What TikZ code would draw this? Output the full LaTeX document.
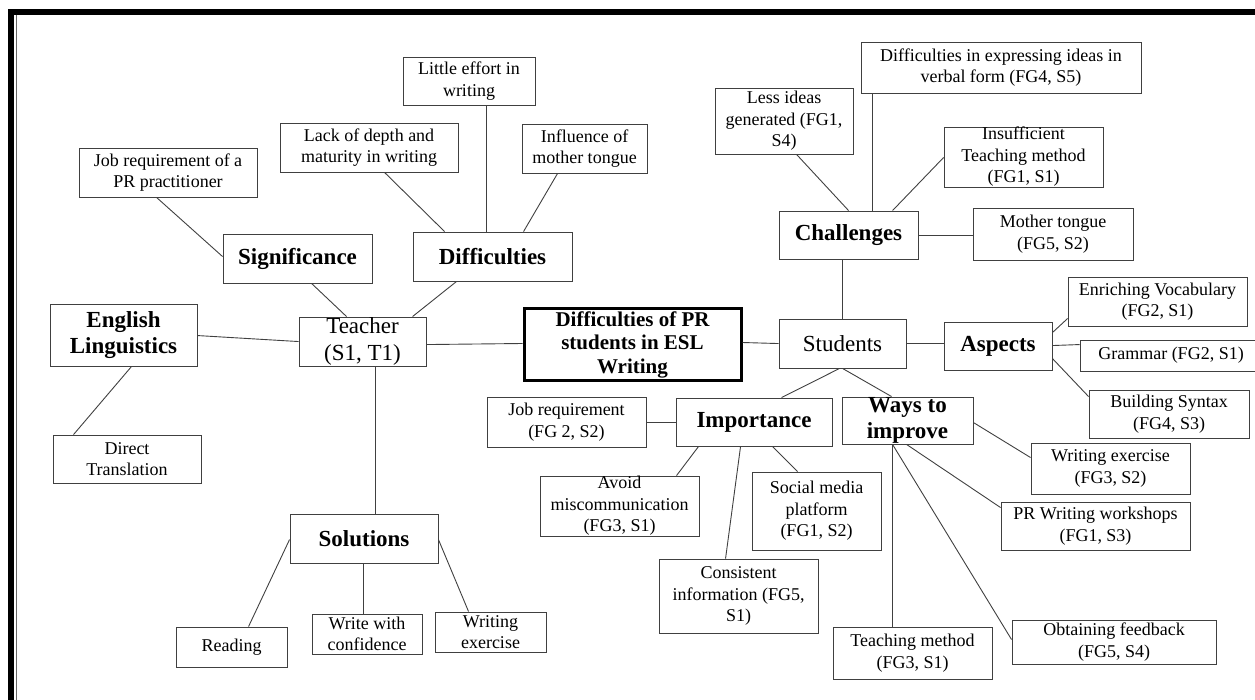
\documentclass[tikz,border=0pt]{standalone}
\usepackage{fontspec}
\setmainfont{Liberation Serif}
\begin{document}
\begin{tikzpicture}[x=1pt,y=-1pt,
  box/.style={draw=black!75, line width=0.9pt, inner sep=0pt, align=center,
    font=\fontsize{18}{21.5}\selectfont},
  head/.style={box, font=\fontsize{23}{26}\selectfont\bfseries},
  mid/.style={box, font=\fontsize{23}{27}\selectfont},
  core/.style={draw=black, line width=3pt, inner sep=0pt, align=center,
    font=\fontsize{21}{23.5}\selectfont\bfseries},
  link/.style={draw=black!75, line width=0.9pt}]
\useasboundingbox (0,0) rectangle (1255,700);
% frame
\fill[black] (8,9) rectangle (1255,15);
\fill[black] (8,9) rectangle (14,700);
\draw[black!60, line width=1pt] (16,15) -- (16,700);

% teacher side
\node[box, minimum width=178pt, minimum height=49pt] (jobpr) at (168,172.5) {Job requirement of a\\PR practitioner};
\node[box, minimum width=178pt, minimum height=49pt] (lack) at (369,147.5) {Lack of depth and\\maturity in writing};
\node[box, minimum width=132pt, minimum height=48pt] (little) at (469,81) {Little effort in\\writing};
\node[box, minimum width=125pt, minimum height=49pt] (influ) at (584.5,148.5) {Influence of\\mother tongue};
\node[head, minimum width=149pt, minimum height=49pt] (sig) at (297.5,258.5) {Significance};
\node[head, minimum width=159pt, minimum height=49pt] (diff) at (492.5,256.5) {Difficulties};
\node[head, minimum width=147pt, minimum height=62pt] (engl) at (123.5,335) {English\\Linguistics};
\node[mid, minimum width=127pt, minimum height=49pt] (teach) at (362.5,341.5) {Teacher\\(S1, T1)};
\node[box, minimum width=148pt, minimum height=48pt] (direct) at (127,459) {Direct\\Translation};
\node[head, minimum width=148pt, minimum height=49pt] (sol) at (364,538.5) {Solutions};
\node[box, minimum width=111pt, minimum height=40pt] (reading) at (231.5,647) {Reading};
\node[box, minimum width=110pt, minimum height=40pt] (write) at (367,634) {Write with\\confidence};
\node[box, minimum width=111pt, minimum height=40pt] (wex) at (490.5,632) {Writing\\exercise};

% centre
\node[core, minimum width=217pt, minimum height=71pt] (center) at (632.5,344.5) {Difficulties of PR\\students in ESL\\Writing};

% student side
\node[mid, minimum width=127pt, minimum height=49pt] (students) at (842.5,343.5) {Students};
\node[box, minimum width=159pt, minimum height=50pt] (jobreq) at (566.5,422) {Job requirement\\(FG 2, S2)};
\node[head, minimum width=156pt, minimum height=48pt] (imp) at (754,422) {Importance};
\node[head, minimum width=131pt, minimum height=47pt] (ways) at (907.5,420.5) {Ways to\\improve};
\node[box, minimum width=159pt, minimum height=60pt] (avoid) at (619.5,506) {Avoid\\miscommunication\\(FG3, S1)};
\node[box, minimum width=129pt, minimum height=78pt] (social) at (816.5,511) {Social media\\platform\\(FG1, S2)};
\node[box, minimum width=159pt, minimum height=74pt] (consist) at (738.5,596) {Consistent\\information (FG5,\\S1)};
\node[box, minimum width=138pt, minimum height=66pt] (less) at (784,121) {Less ideas\\generated (FG1,\\S4)};
\node[box, minimum width=280pt, minimum height=51pt] (express) at (1001,67.5) {Difficulties in expressing ideas in\\verbal form (FG4, S5)};
\node[box, minimum width=159pt, minimum height=60pt] (insuf) at (1023.5,157) {Insufficient\\Teaching method\\(FG1, S1)};
\node[head, minimum width=139pt, minimum height=48pt] (chall) at (848.5,235) {Challenges};
\node[box, minimum width=160pt, minimum height=52pt] (mother) at (1053,234) {Mother tongue\\(FG5, S2)};
\node[box, minimum width=179pt, minimum height=49pt] (enrich) at (1157.5,301.5) {Enriching Vocabulary\\(FG2, S1)};
\node[head, minimum width=108pt, minimum height=48pt] (aspects) at (998,346) {Aspects};
\node[box, minimum width=182pt, minimum height=31pt] (grammar) at (1171,355.5) {Grammar (FG2, S1)};
\node[box, minimum width=160pt, minimum height=48pt] (build) at (1169,414) {Building Syntax\\(FG4, S3)};
\node[box, minimum width=159pt, minimum height=51pt] (wex2) at (1110.5,468.5) {Writing exercise\\(FG3, S2)};
\node[box, minimum width=189pt, minimum height=48pt] (prw) at (1095.5,526) {PR Writing workshops\\(FG1, S3)};
\node[box, minimum width=159pt, minimum height=52pt] (teachm) at (912.5,653) {Teaching method\\(FG3, S1)};
\node[box, minimum width=204pt, minimum height=44pt] (obtain) at (1114,642) {Obtaining feedback\\(FG5, S4)};

% connectors - teacher side
\draw[link] ([shift={(78,0)}]jobpr.south west) -- ([shift={(0,23)}]sig.north west);
\draw[link] ([shift={(89,0)}]sig.south west) -- ([shift={(48,0)}]teach.north west);
\draw[link] ([shift={(105,0)}]lack.south west) -- ([shift={(32,0)}]diff.north west);
\draw[link] ([shift={(84,0)}]little.south west) -- ([shift={(74,0)}]diff.north west);
\draw[link] ([shift={(36,0)}]influ.south west) -- ([shift={(111,0)}]diff.north west);
\draw[link] ([shift={(44,0)}]diff.south west) -- ([shift={(114,0)}]teach.north west);
\draw[link] ([shift={(0,32)}]engl.north east) -- ([shift={(0,25)}]teach.north west);
\draw[link] ([shift={(82,0)}]engl.south west) -- ([shift={(21,0)}]direct.north west);
\draw[link] ([shift={(77,0)}]teach.south west) -- ([shift={(86,0)}]sol.north west);
\draw[link] ([shift={(0,26)}]sol.north west) -- ([shift={(73,0)}]reading.north west);
\draw[link] ([shift={(74,0)}]sol.south west) -- ([shift={(52,0)}]write.north west);
\draw[link] ([shift={(0,26)}]sol.north east) -- ([shift={(34,0)}]wex.north west);
\draw[link] ([shift={(0,28)}]teach.north east) -- ([shift={(0,36)}]center.north west);
% connectors - student side
\draw[link] ([shift={(0,35)}]center.north east) -- ([shift={(0,25)}]students.north west);
\draw[link] ([shift={(64,0)}]chall.south west) -- ([shift={(64,0)}]students.north west);
\draw[link] ([shift={(82,0)}]less.south west) -- ([shift={(70,0)}]chall.north west);
\draw[link] ([shift={(12,0)}]express.south west) -- ([shift={(94,0)}]chall.north west);
\draw[link] ([shift={(0,31)}]insuf.north west) -- ([shift={(114,0)}]chall.north west);
\draw[link] ([shift={(0,25)}]chall.north east) -- ([shift={(0,28)}]mother.north west);
\draw[link] ([shift={(0,25)}]students.north east) -- ([shift={(0,22)}]aspects.north west);
\draw[link] ([shift={(0,11)}]aspects.north east) -- ([shift={(0,42)}]enrich.north west);
\draw[link] ([shift={(0,24)}]aspects.north east) -- ([shift={(0,5)}]grammar.north west);
\draw[link] ([shift={(0,37)}]aspects.north east) -- ([shift={(0,7)}]build.north west);
\draw[link] ([shift={(61,0)}]students.south west) -- ([shift={(106,0)}]imp.north west);
\draw[link] ([shift={(64,0)}]students.south west) -- ([shift={(50,0)}]ways.north west);
\draw[link] ([shift={(0,26)}]jobreq.north east) -- ([shift={(0,25)}]imp.north west);
\draw[link] ([shift={(23,0)}]imp.south west) -- ([shift={(137,0)}]avoid.north west);
\draw[link] ([shift={(97,0)}]imp.south west) -- ([shift={(46,0)}]social.north west);
\draw[link] ([shift={(65,0)}]imp.south west) -- ([shift={(67,0)}]consist.north west);
\draw[link] ([shift={(0,26)}]ways.north east) -- ([shift={(0,15)}]wex2.north west);
\draw[link] ([shift={(65,0)}]ways.south west) -- ([shift={(0,6)}]prw.north west);
\draw[link] ([shift={(51,0)}]ways.south west) -- ([shift={(60,0)}]teachm.north west);
\draw[link] ([shift={(51,0)}]ways.south west) -- ([shift={(0,20)}]obtain.north west);
\end{tikzpicture}
\end{document}
